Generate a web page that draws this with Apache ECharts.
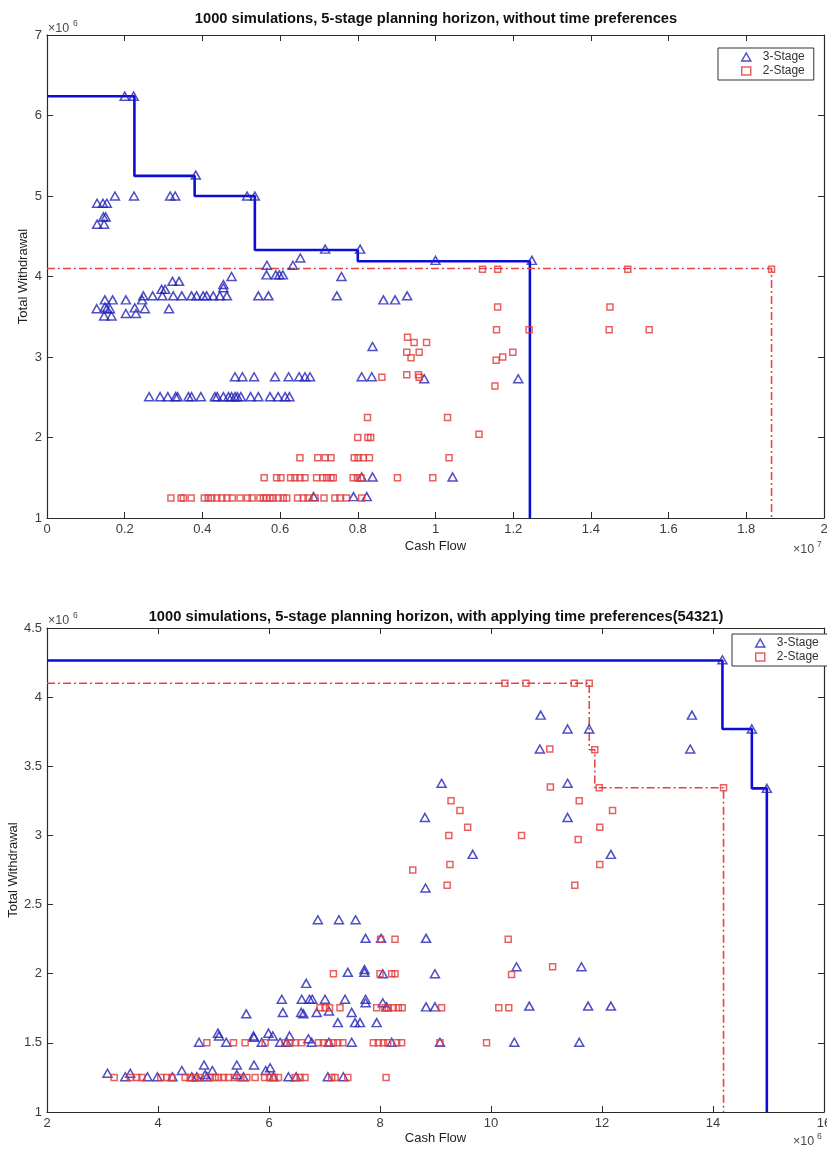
<!DOCTYPE html>
<html>
<head>
<meta charset="utf-8">
<script src="https://cdn.jsdelivr.net/npm/echarts@6/dist/echarts.min.js"></script>
<style>
  html, body { margin: 0; padding: 0; background: #fff; }
  #chart { width: 827px; height: 1149px; }
</style>
</head>
<body>
<div id="chart"></div>
<script>
// Upper panel: cash flow in units of 10^7, total withdrawal in units of 10^6.
const topThreeStage = [
  [0.200,6.24],[0.223,6.24],[0.383,5.26],[0.515,5.0],[0.535,5.0],[0.716,4.34],[0.806,4.34],[1.0,4.2],[1.248,4.2],
  [0.129,4.91],[0.144,4.91],[0.154,4.91],[0.175,5.0],[0.224,5.0],[0.317,5.0],[0.330,5.0],
  [0.129,4.65],[0.147,4.65],[0.145,4.74],[0.151,4.74],
  [0.652,4.23],[0.633,4.14],[0.566,4.14],
  [0.475,4.0],[0.565,4.02],[0.589,4.02],[0.598,4.02],[0.607,4.02],[0.758,4.0],
  [0.454,3.90],[0.454,3.86],[0.323,3.94],[0.340,3.94],[0.295,3.84],[0.304,3.84],
  [0.248,3.76],[0.272,3.76],[0.297,3.76],[0.325,3.76],[0.347,3.76],[0.372,3.76],[0.385,3.76],[0.402,3.76],
  [0.411,3.76],[0.428,3.76],[0.445,3.76],[0.463,3.76],[0.544,3.76],[0.570,3.76],[0.746,3.76],[0.927,3.76],
  [0.149,3.71],[0.169,3.71],[0.203,3.71],[0.245,3.71],[0.866,3.71],[0.896,3.71],
  [0.128,3.60],[0.149,3.62],[0.154,3.60],[0.162,3.60],[0.226,3.61],[0.252,3.60],[0.314,3.60],
  [0.147,3.51],[0.166,3.51],[0.203,3.54],[0.229,3.54],
  [0.838,3.13],
  [0.484,2.755],[0.503,2.755],[0.533,2.755],[0.587,2.755],[0.622,2.755],[0.649,2.755],[0.664,2.755],[0.677,2.755],
  [0.810,2.755],[0.836,2.755],[0.971,2.73],[1.213,2.73],
  [0.263,2.507],[0.291,2.507],[0.311,2.507],[0.331,2.507],[0.336,2.507],[0.364,2.507],[0.372,2.507],[0.396,2.507],
  [0.432,2.507],[0.438,2.507],[0.454,2.507],[0.467,2.507],[0.475,2.507],[0.484,2.507],[0.490,2.507],[0.499,2.507],
  [0.524,2.507],[0.544,2.507],[0.574,2.507],[0.595,2.507],[0.613,2.507],[0.624,2.507],
  [0.810,1.51],[0.838,1.51],[1.044,1.51],
  [0.686,1.265],[0.789,1.265],[0.823,1.265]
];
const topTwoStage = [
  [1.121,4.09],[1.160,4.09],[1.495,4.09],[1.865,4.09],
  [1.160,3.62],[1.449,3.62],
  [1.157,3.34],[1.241,3.34],[1.447,3.34],[1.550,3.34],
  [0.928,3.245],[0.945,3.18],[0.977,3.18],[0.926,3.06],[0.958,3.06],[1.199,3.06],[0.937,2.99],[1.173,3.0],[1.156,2.96],
  [0.926,2.78],[0.956,2.78],[0.862,2.75],[0.958,2.75],[1.153,2.64],
  [0.825,2.25],[1.031,2.25],[1.112,2.04],[0.800,2.0],[0.826,2.0],[0.833,2.0],
  [0.651,1.75],[0.697,1.75],[0.716,1.75],[0.731,1.75],[0.791,1.75],[0.801,1.75],[0.814,1.75],[0.830,1.75],[1.035,1.75],
  [0.559,1.5],[0.591,1.5],[0.602,1.5],[0.627,1.5],[0.638,1.5],[0.651,1.5],[0.664,1.5],[0.694,1.5],[0.710,1.5],
  [0.720,1.5],[0.731,1.5],[0.737,1.5],[0.788,1.5],[0.799,1.5],[0.808,1.5],[0.902,1.5],[0.993,1.5],
  [0.319,1.25],[0.345,1.25],[0.351,1.25],[0.371,1.25],[0.405,1.25],[0.415,1.25],[0.424,1.25],[0.437,1.25],
  [0.450,1.25],[0.463,1.25],[0.477,1.25],[0.497,1.25],[0.516,1.25],[0.528,1.25],[0.548,1.25],[0.557,1.25],
  [0.565,1.25],[0.574,1.25],[0.582,1.25],[0.595,1.25],[0.608,1.25],[0.617,1.25],[0.645,1.25],[0.660,1.25],
  [0.672,1.25],[0.690,1.25],[0.713,1.25],[0.741,1.25],[0.754,1.25],[0.771,1.25],[0.810,1.25]
];
// Staircase vertices of the efficient frontiers (upper panel).
const topThreeStageFrontier = [[0,6.24],[0.225,6.24],[0.38,5.25],[0.535,5.0],[0.80,4.33],[1.243,4.19],[1.243,1.0]];
const topTwoStageFrontier = [[0,4.1],[1.865,4.1],[1.865,1.0]];

// Lower panel: cash flow and total withdrawal both in units of 10^6.
const bottomThreeStage = [
  [14.17,4.27],[14.70,3.77],[14.97,3.34],
  [10.895,3.87],[13.62,3.87],[11.38,3.77],[11.77,3.77],[10.88,3.625],[13.59,3.625],
  [9.11,3.377],[11.38,3.377],[8.81,3.13],[11.38,3.13],[9.67,2.863],[12.16,2.863],[8.82,2.62],
  [6.88,2.39],[7.26,2.39],[7.56,2.39],
  [7.74,2.256],[8.02,2.256],[8.83,2.256],
  [10.46,2.05],[11.63,2.05],
  [7.42,2.01],[7.72,2.03],[7.72,2.01],[8.05,2.0],[8.99,2.0],
  [6.67,1.93],
  [6.23,1.815],[6.59,1.815],[6.73,1.815],[6.78,1.815],[7.01,1.815],[7.37,1.815],[7.74,1.815],
  [7.74,1.79],[8.05,1.79],
  [8.12,1.76],[8.83,1.76],[8.99,1.76],[10.69,1.766],[11.75,1.766],[12.16,1.766],
  [5.59,1.71],[6.25,1.72],[6.58,1.72],[6.62,1.71],[6.86,1.72],[7.08,1.73],[7.49,1.72],
  [7.24,1.646],[7.55,1.646],[7.64,1.646],[7.94,1.646],
  [5.08,1.57],[5.10,1.55],[5.72,1.55],[5.73,1.54],[5.99,1.57],[6.07,1.55],[6.37,1.55],[6.71,1.53],
  [4.74,1.504],[5.23,1.504],[5.87,1.504],[6.20,1.504],[6.32,1.504],[6.77,1.504],[7.08,1.504],[7.49,1.504],
  [8.21,1.504],[9.08,1.504],[10.42,1.504],[11.59,1.504],
  [4.83,1.34],[5.42,1.34],[5.73,1.34],[6.02,1.32],
  [3.09,1.28],[3.50,1.28],[4.43,1.30],[4.98,1.30],[5.94,1.30],[5.42,1.27],[4.85,1.27],
  [3.41,1.255],[3.81,1.255],[3.99,1.255],[4.26,1.255],[4.61,1.255],[4.70,1.255],[4.88,1.255],[5.54,1.255],
  [6.08,1.255],[6.35,1.255],[6.49,1.255],[7.06,1.255],[7.34,1.255]
];
const bottomTwoStage = [
  [10.25,4.10],[10.63,4.10],[11.50,4.10],[11.77,4.10],
  [11.06,3.625],[11.87,3.62],
  [11.07,3.35],[11.95,3.345],[14.19,3.345],
  [9.28,3.25],[11.59,3.25],[9.44,3.18],[12.19,3.18],[9.58,3.06],[11.96,3.06],
  [9.24,3.0],[10.55,3.0],[11.57,2.97],[9.26,2.79],[11.96,2.79],[8.59,2.75],[9.21,2.64],[11.51,2.64],
  [8.01,2.25],[8.27,2.25],[10.31,2.25],[11.11,2.05],
  [7.16,2.0],[8.00,2.0],[8.21,2.0],[8.27,2.0],[10.37,1.995],
  [6.92,1.754],[7.01,1.754],[7.09,1.754],[7.28,1.754],[7.94,1.754],[8.09,1.754],[8.15,1.754],[8.24,1.754],
  [8.33,1.754],[8.40,1.754],[9.11,1.754],[10.14,1.754],[10.32,1.754],
  [4.88,1.5],[5.36,1.5],[5.57,1.5],[5.93,1.5],[6.29,1.5],[6.38,1.5],[6.47,1.5],[6.59,1.5],[6.89,1.5],
  [6.98,1.5],[7.07,1.5],[7.16,1.5],[7.24,1.5],[7.33,1.5],[7.88,1.5],[7.97,1.5],[8.06,1.5],[8.14,1.5],
  [8.30,1.5],[8.39,1.5],[9.08,1.5],[9.92,1.5],
  [3.21,1.25],[3.50,1.25],[3.62,1.25],[3.71,1.25],[4.05,1.25],[4.16,1.25],[4.25,1.25],[4.49,1.25],
  [4.58,1.25],[4.67,1.25],[4.76,1.25],[4.94,1.25],[5.03,1.25],[5.09,1.25],[5.18,1.25],[5.27,1.25],
  [5.38,1.25],[5.46,1.25],[5.60,1.25],[5.75,1.25],[5.92,1.25],[6.01,1.25],[6.09,1.25],[6.17,1.25],
  [6.47,1.25],[6.56,1.25],[6.65,1.25],[7.13,1.25],[7.19,1.25],[7.42,1.25],[8.11,1.25]
];
const bottomThreeStageFrontier = [[2,4.265],[14.17,4.265],[14.70,3.77],[14.97,3.34],[14.97,1.0]];
const bottomTwoStageFrontier = [[2,4.1],[11.77,4.1],[11.87,3.62],[11.95,3.345],[14.19,3.345],[14.19,1.0]];

const topTitle = '1000 simulations, 5-stage planning horizon, without time preferences';
const bottomTitle = '1000 simulations, 5-stage planning horizon, with applying time preferences(54321)';
const seriesNames = ['3-Stage', '2-Stage'];

const FONT = '"Liberation Sans", Arial, Helvetica, sans-serif';
const AXIS_COLOR = '#2a2a2a';
const LABEL_COLOR = '#3c3c3c';
const TRI_COLOR = '#2222b8';
const LINE_BLUE = '#0d0dd8';
const SQ_COLOR = '#e23a3a';
const LINE_RED = '#e34545';

const fmt = v => String(Number(v.toFixed(2)));

function axis(gridIndex, position, min, max, interval, labelled, name, nameGap) {
  return {
    type: 'value', gridIndex, position, min, max, interval,
    name: labelled ? name : '',
    nameLocation: 'middle', nameGap, nameMoveOverlap: false,
    nameTextStyle: { color: '#1e1e1e', fontSize: 13, fontFamily: FONT },
    axisLine: { show: true, onZero: false, lineStyle: { color: AXIS_COLOR, width: 1.2 } },
    axisTick: { show: true, inside: true, length: 6, lineStyle: { color: AXIS_COLOR, width: 1 } },
    axisLabel: { show: labelled, color: LABEL_COLOR, fontSize: 13, fontFamily: FONT, margin: 5, formatter: fmt },
    splitLine: { show: false }
  };
}

function scatter(name, data, g, symbol, size, color) {
  return {
    type: 'scatter', name, data, xAxisIndex: g * 2, yAxisIndex: g * 2,
    symbol, symbolSize: size, z: 3,
    itemStyle: { color: 'rgba(0,0,0,0)', borderColor: color, borderWidth: 1.5 },
    emphasis: { disabled: true }
  };
}

function frontier(name, data, g, color, width, dash) {
  return {
    type: 'line', name, data, xAxisIndex: g * 2, yAxisIndex: g * 2,
    step: 'start', showSymbol: false, symbol: 'none', z: 2,
    lineStyle: { color, width, type: dash || 'solid' },
    emphasis: { disabled: true }
  };
}

function legend(left, top) {
  return {
    left, top, orient: 'vertical', itemGap: 2, itemWidth: 9, itemHeight: 8,
    backgroundColor: '#fff', borderColor: '#333', borderWidth: 1,
    padding: [3, 9, 3, 23], selectedMode: false,
    textStyle: { color: '#333', fontSize: 12, fontFamily: FONT, padding: [0, 0, 0, 7] },
    data: [
      { name: seriesNames[0], icon: 'triangle',
        itemStyle: { color: 'rgba(0,0,0,0)', borderColor: TRI_COLOR, borderWidth: 1.5 } },
      { name: seriesNames[1], icon: 'rect',
        itemStyle: { color: 'rgba(0,0,0,0)', borderColor: SQ_COLOR, borderWidth: 1.5 } }
    ]
  };
}

function txt(text, x, y, size, opts) {
  return {
    type: 'text', silent: true,
    style: Object.assign({
      text, x, y, fontSize: size, fontFamily: FONT, fill: '#4a4a4a',
      textAlign: 'left', textVerticalAlign: 'middle'
    }, opts || {})
  };
}

const chart = echarts.init(document.getElementById('chart'), null, { renderer: 'canvas' });
chart.setOption({
  animation: false,
  backgroundColor: '#fff',
  textStyle: { fontFamily: FONT },
  grid: [
    { left: 47, top: 35, width: 777, height: 483, containLabel: false, outerBoundsMode: 'none' },
    { left: 47, top: 628, width: 777, height: 484, containLabel: false, outerBoundsMode: 'none' }
  ],
  xAxis: [
    axis(0, 'bottom', 0, 2, 0.2, true, 'Cash Flow', 22),
    axis(0, 'top', 0, 2, 0.2, false),
    axis(1, 'bottom', 2, 16, 2, true, 'Cash Flow', 20),
    axis(1, 'top', 2, 16, 2, false)
  ],
  yAxis: [
    axis(0, 'left', 1, 7, 1, true, 'Total Withdrawal', 17),
    axis(0, 'right', 1, 7, 1, false),
    axis(1, 'left', 1, 4.5, 0.5, true, 'Total Withdrawal', 27),
    axis(1, 'right', 1, 4.5, 0.5, false)
  ],
  legend: [legend(718, 48), legend(732, 634)],
  series: [
    frontier('3-Stage frontier', topThreeStageFrontier, 0, LINE_BLUE, 2.6),
    frontier('2-Stage frontier', topTwoStageFrontier, 0, LINE_RED, 1.6, [8, 3, 2, 3]),
    scatter(seriesNames[0], topThreeStage, 0, 'triangle', [9, 8], TRI_COLOR),
    scatter(seriesNames[1], topTwoStage, 0, 'rect', [6, 6], SQ_COLOR),
    frontier('3-Stage frontier', bottomThreeStageFrontier, 1, LINE_BLUE, 2.6),
    frontier('2-Stage frontier', bottomTwoStageFrontier, 1, LINE_RED, 1.6, [8, 3, 2, 3]),
    scatter(seriesNames[0], bottomThreeStage, 1, 'triangle', [9, 8], TRI_COLOR),
    scatter(seriesNames[1], bottomTwoStage, 1, 'rect', [6, 6], SQ_COLOR)
  ],
  graphic: [
    txt(topTitle, 436, 19, 14.7, { fontWeight: 'bold', fill: '#111', textAlign: 'center' }),
    txt(bottomTitle, 436, 617, 14.7, { fontWeight: 'bold', fill: '#111', textAlign: 'center' }),
    // axis multipliers
    txt('\u00d710', 48, 29, 12.5),
    txt('6', 73, 24, 8.5),
    txt('\u00d710', 793, 550, 12.5),
    txt('7', 817, 545, 8.5),
    txt('\u00d710', 48, 621, 12.5),
    txt('6', 73, 616, 8.5),
    txt('\u00d710', 793, 1142, 12.5),
    txt('6', 817, 1137, 8.5)
  ]
});
</script>
</body>
</html>
